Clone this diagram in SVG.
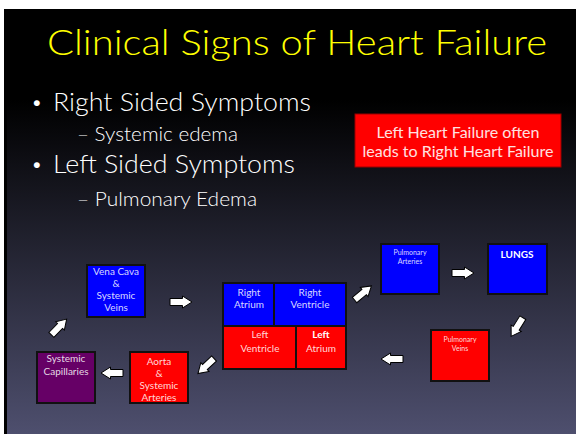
<svg xmlns="http://www.w3.org/2000/svg" xmlns:xlink="http://www.w3.org/1999/xlink" width="576" height="434" viewBox="0 0 576 434">
  <defs>
    <linearGradient id="slideBg" x1="0" y1="0" x2="0" y2="434" gradientUnits="userSpaceOnUse">
      <stop offset="0" stop-color="#000000"/>
      <stop offset="0.23" stop-color="#000000"/>
      <stop offset="1" stop-color="#4e4f6e"/>
    </linearGradient>
    <!-- block arrow pointing right, centred on the origin -->
    <path id="blockArrow" d="M-11,-3.5 H1.5 V-6 L11,0 L1.5,6 V3.5 H-11 Z"/>
  </defs>
  <style>
    .title { font-family: "Lato", "Open Sans", "Liberation Sans", sans-serif; font-weight: 300; font-size: 35px; fill: #ffff00; }
    .bullet { font-family: "Lato", "Open Sans", "Liberation Sans", sans-serif; font-weight: 300; fill: #ffffff; }
    .lvl1 { font-size: 26px; }
    .lvl2 { font-size: 20px; }
    .dot { font-size: 20px; }
    .note { font-family: "Lato", "Open Sans", "Liberation Sans", sans-serif; font-size: 15px; fill: #ffe0e0; text-anchor: middle; }
    .box { stroke: #111111; stroke-width: 2; }
    .blue { fill: #0000ff; }
    .red { fill: #ff0000; }
    .purple { fill: #660066; }
    .lbl { font-family: "Lato", "Open Sans", "Liberation Sans", sans-serif; font-size: 10px; text-anchor: middle; fill: #ffffff; fill-opacity: 0.85; }
    .sm { font-size: 7px; }
    .bold { font-weight: bold; fill-opacity: 1; }
    .arrow { fill: #ffffff; stroke: #000000; stroke-width: 1; }
  </style>

  <!-- page and slide background -->
  <rect x="0" y="0" width="576" height="434" fill="#ffffff"/>
  <rect x="4" y="9" width="572" height="425" fill="url(#slideBg)"/>
  <rect x="4" y="9" width="3" height="425" fill="#000000"/>

  <!-- heading and bullet text -->
  <text class="title" x="297" y="55" text-anchor="middle" textLength="500" lengthAdjust="spacingAndGlyphs">Clinical Signs of Heart Failure</text>
  <g id="bullets">
    <text class="bullet dot" x="31" y="109">•</text>
    <text class="bullet lvl1" x="53" y="111" textLength="258" lengthAdjust="spacingAndGlyphs">Right Sided Symptoms</text>
    <text class="bullet lvl2" x="77" y="141" textLength="161" lengthAdjust="spacingAndGlyphs">– Systemic edema</text>
    <text class="bullet dot" x="31" y="171">•</text>
    <text class="bullet lvl1" x="53" y="173" textLength="242" lengthAdjust="spacingAndGlyphs">Left Sided Symptoms</text>
    <text class="bullet lvl2" x="77" y="206" textLength="180" lengthAdjust="spacingAndGlyphs">– Pulmonary Edema</text>
  </g>

  <g id="note">
    <rect x="355" y="114" width="206" height="53" fill="#ff0000" stroke="#990000" stroke-width="1"/>
    <text class="note" x="458" y="138" textLength="163" lengthAdjust="spacingAndGlyphs">Left Heart Failure often</text>
    <text class="note" x="458" y="157" textLength="191" lengthAdjust="spacingAndGlyphs">leads to Right Heart Failure</text>
  </g>

  <!-- circulation nodes -->
  <g id="vena-cava">
    <rect class="box blue" x="87" y="265" width="58" height="52"/>
    <text class="lbl" x="116" y="275">Vena Cava</text>
    <text class="lbl" x="116" y="287">&amp;</text>
    <text class="lbl" x="116" y="299">Systemic</text>
    <text class="lbl" x="116" y="311">Veins</text>
  </g>
  <g id="systemic-capillaries">
    <rect class="box purple" x="37" y="352" width="58" height="51"/>
    <text class="lbl" x="66" y="362">Systemic</text>
    <text class="lbl" x="66" y="375">Capillaries</text>
  </g>
  <g id="aorta">
    <rect class="box red" x="130" y="352" width="58" height="51"/>
    <text class="lbl" x="159" y="365">Aorta</text>
    <text class="lbl" x="159" y="377">&amp;</text>
    <text class="lbl" x="159" y="389">Systemic</text>
    <text class="lbl" x="159" y="401">Arteries</text>
  </g>
  <g id="heart">
    <rect class="box blue" x="223" y="283" width="51" height="43"/>
    <rect class="box blue" x="274" y="283" width="72" height="43"/>
    <rect class="box red" x="223" y="326" width="73" height="43"/>
    <rect class="box red" x="296" y="326" width="50" height="43"/>
    <text class="lbl" x="249" y="296">Right</text>
    <text class="lbl" x="249" y="308">Atrium</text>
    <text class="lbl" x="310" y="296">Right</text>
    <text class="lbl" x="310" y="308">Ventricle</text>
    <text class="lbl" x="260" y="338">Left</text>
    <text class="lbl" x="260" y="352">Ventricle</text>
    <text class="lbl bold" x="321" y="338">Left</text>
    <text class="lbl" x="321" y="352">Atrium</text>
  </g>
  <g id="pulmonary-arteries">
    <rect class="box blue" x="381" y="244" width="58" height="50"/>
    <text class="lbl sm" x="410" y="255">Pulmonary</text>
    <text class="lbl sm" x="410" y="263.5">Arteries</text>
  </g>
  <g id="lungs">
    <rect class="box blue" x="488" y="244" width="59" height="50"/>
    <text class="lbl bold" x="517" y="258" font-size="11">LUNGS</text>
  </g>
  <g id="pulmonary-veins">
    <rect class="box red" x="431" y="330" width="58" height="51"/>
    <text class="lbl sm" x="460" y="342">Pulmonary</text>
    <text class="lbl sm" x="460" y="350.5">Veins</text>
  </g>

  <!-- flow arrows -->
  <g id="connectors">
    <use xlink:href="#blockArrow" class="arrow" transform="translate(181,302)"/>
    <use xlink:href="#blockArrow" class="arrow" transform="translate(59,327) rotate(-46)"/>
    <use xlink:href="#blockArrow" class="arrow" transform="translate(112,373) rotate(180)"/>
    <use xlink:href="#blockArrow" class="arrow" transform="translate(206,366) rotate(137)"/>
    <use xlink:href="#blockArrow" class="arrow" transform="translate(363,293) rotate(-40)"/>
    <use xlink:href="#blockArrow" class="arrow" transform="translate(463,273)"/>
    <use xlink:href="#blockArrow" class="arrow" transform="translate(517,327) rotate(122)"/>
    <use xlink:href="#blockArrow" class="arrow" transform="translate(392,359) rotate(180)"/>
  </g>
</svg>
